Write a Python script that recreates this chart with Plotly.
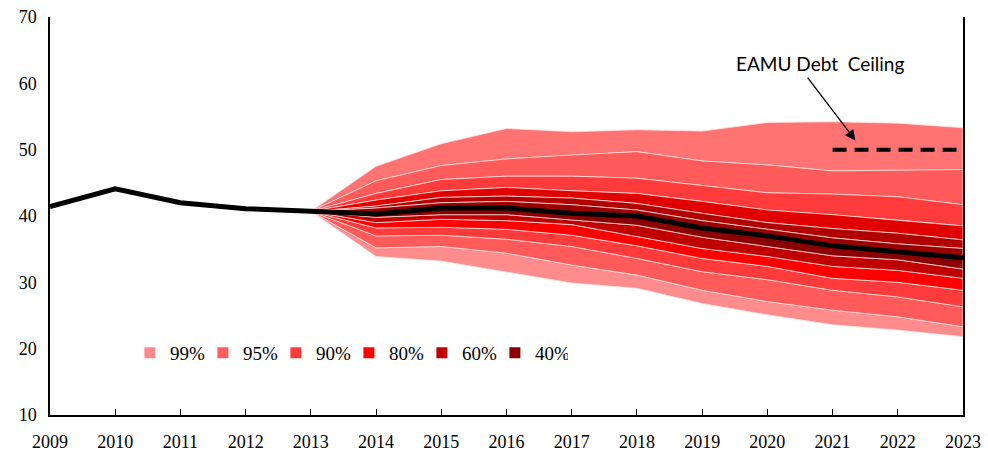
import plotly.graph_objects as go

# ---------------- data ----------------
hist_years = [2009, 2010, 2011, 2012, 2013]
hist_debt = [41.4, 44.1, 42.0, 41.1, 40.7]

proj_years = [2013, 2014, 2015, 2016, 2017, 2018, 2019, 2020, 2021, 2022, 2023]
median = [40.7, 40.3, 41.2, 41.2, 40.4, 40.0, 38.2, 37.0, 35.5, 34.6, 33.7]

u99 = [40.7, 47.5, 50.9, 53.2, 52.7, 53.0, 52.8, 54.1, 54.2, 54.0, 53.3]
u95 = [40.7, 45.3, 47.6, 48.6, 49.2, 49.7, 48.3, 47.7, 46.8, 46.9, 47.0]
u90 = [40.7, 43.4, 45.5, 46.0, 46.0, 45.7, 44.6, 43.5, 43.3, 42.9, 41.7]
u80 = [40.7, 42.4, 43.8, 44.3, 43.8, 43.4, 42.2, 40.9, 40.2, 39.4, 38.5]
u60 = [40.7, 41.5, 42.8, 43.0, 42.7, 41.9, 40.4, 39.0, 38.1, 37.4, 36.4]
u40 = [40.7, 41.2, 42.0, 42.2, 41.7, 40.9, 39.3, 38.0, 36.7, 35.8, 35.1]
l40 = [40.7, 39.8, 40.2, 40.2, 39.4, 38.6, 36.8, 35.4, 34.0, 33.4, 32.0]
l60 = [40.7, 39.0, 39.5, 39.3, 38.7, 36.9, 35.1, 33.9, 32.4, 31.8, 30.6]
l80 = [40.7, 38.2, 38.3, 38.0, 37.1, 35.5, 33.6, 32.4, 30.6, 30.0, 28.8]
l90 = [40.7, 37.0, 37.1, 36.5, 35.4, 33.6, 31.6, 30.4, 28.8, 27.8, 26.3]
l95 = [40.7, 35.2, 35.4, 34.4, 32.6, 31.1, 28.8, 27.1, 25.8, 24.8, 23.3]
l99 = [40.7, 33.9, 33.2, 31.6, 29.9, 29.1, 26.8, 25.1, 23.6, 22.8, 21.8]

ceiling_years = [2021, 2022, 2023]
ceiling = [50, 50, 50]

legend_labels = ["99%", "95%", "90%", "80%", "60%", "40%"]
legend_colors = ["#FF8C8C", "#FF5F5F", "#FF3A3A", "#FF0000", "#C00000", "#8B0000"]

upper_bounds = [u99, u95, u90, u80, u60, u40]
upper_colors = ["#FF7373", "#FF5B5B", "#FF3B3B", "#E00000", "#B00000", "#990000"]
lower_bounds = [l99, l95, l90, l80, l60, l40]
lower_colors = ["#FF8C8C", "#FF5B5B", "#FF3B3B", "#FF0000", "#C00000", "#8B0000"]

fig = go.Figure()

edge = dict(color="rgba(255,225,225,0.75)", width=1)

def band(outer, inner, color):
    xs = proj_years + proj_years[::-1]
    ys = outer + inner[::-1]
    fig.add_trace(go.Scatter(x=xs, y=ys, fill="toself", fillcolor=color,
                             mode="lines", line=edge, showlegend=False,
                             hoverinfo="skip"))

for i in range(len(upper_bounds)):
    inner = upper_bounds[i + 1] if i + 1 < len(upper_bounds) else median
    band(upper_bounds[i], inner, upper_colors[i])
for i in range(len(lower_bounds)):
    inner = lower_bounds[i + 1] if i + 1 < len(lower_bounds) else median
    band(lower_bounds[i], inner, lower_colors[i])

fig.add_trace(go.Scatter(x=hist_years + proj_years[1:], y=hist_debt + median[1:],
                         mode="lines", line=dict(color="black", width=5),
                         showlegend=False))

fig.add_trace(go.Scatter(x=ceiling_years, y=ceiling, mode="lines",
                         line=dict(color="black", width=4, dash="14px,8px"),
                         showlegend=False))

for lab, col in zip(legend_labels, legend_colors):
    fig.add_trace(go.Scatter(x=[None], y=[None], mode="markers", name=lab,
                             marker=dict(symbol="square", size=11, color=col,
                                         line=dict(width=0))))

fig.add_annotation(x=2021.35, y=51.4, ax=2020.6, ay=61.1, xref="x", yref="y",
                   axref="x", ayref="y", text="", showarrow=True,
                   arrowhead=2, arrowsize=1.6, arrowwidth=1.3, arrowcolor="black")
fig.add_annotation(x=2020.81, y=63.0, xref="x", yref="y", text="EAMU Debt  Ceiling",
                   showarrow=False, font=dict(family="Lato", size=19, color="black"))

serif = "Liberation Serif, Times New Roman, DejaVu Serif, serif"
fig.update_layout(
    template="none",
    width=988, height=454,
    margin=dict(l=50, r=25, t=17, b=39, autoexpand=False),
    paper_bgcolor="white", plot_bgcolor="white",
    font=dict(family=serif, color="black"),
    showlegend=True,
    legend=dict(orientation="h", x=0.0875, y=0.156, xanchor="left", yanchor="middle",
                font=dict(family=serif, size=19, color="black"),
                itemwidth=30, entrywidth=28, entrywidthmode="pixels",
                bgcolor="rgba(0,0,0,0)", tracegroupgap=0),
    xaxis=dict(range=[2009, 2023], tickmode="array", automargin=False,
               tickvals=list(range(2009, 2024)), showgrid=False, zeroline=False,
               showline=True, linecolor="black", linewidth=1.5,
               ticks="inside", ticklen=6, tickcolor="black",
               tickfont=dict(family=serif, size=18, color="black"),
               ticklabelstandoff=10),
    yaxis=dict(range=[10, 70], tickvals=[10, 20, 30, 40, 50, 60, 70], automargin=False,
               showgrid=False, zeroline=False, showline=True, mirror=True,
               linecolor="black", linewidth=1.5, ticks="",
               tickfont=dict(family=serif, size=18, color="black"),
               ticklabelstandoff=8),
)

fig.write_html("out.html", config={"displayModeBar": False},
               post_script="document.body.style.margin='0';document.body.style.overflow='hidden';")
